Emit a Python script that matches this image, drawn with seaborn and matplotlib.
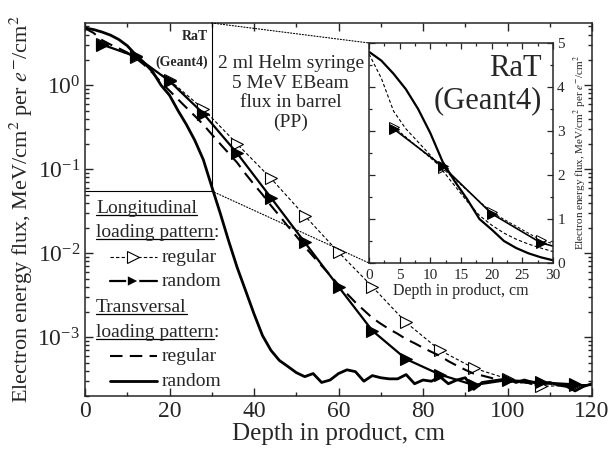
import numpy as np
import pandas as pd
import matplotlib
matplotlib.use("Agg")
import matplotlib.pyplot as plt
from matplotlib.patches import ConnectionPatch
from matplotlib.ticker import MultipleLocator, LogLocator, NullFormatter
import seaborn as sns

# --- Data ---
# Transversal loading pattern, no markers, 2 cm bins
trans_depth = [0, 2, 4, 6, 8, 10, 12, 14, 16, 18, 20, 22, 24, 26, 28, 30, 32, 34, 36, 38,
               40, 42, 44, 46, 48, 50, 52, 54, 56, 58, 60, 62, 64, 66, 68, 70, 72, 74, 76, 78,
               80, 82, 84, 86, 88, 90, 92, 94, 96, 98, 100, 102, 104, 106, 108, 110, 112, 114,
               116, 118, 120]
trans_random = [4.8, 4.6, 4.3, 3.95, 3.5, 2.95, 2.3, 1.85, 1.45, 1.0, 0.76, 0.5, 0.34, 0.22,
                0.13, 0.062, 0.03, 0.014, 0.0068, 0.0036, 0.0019, 0.00105, 0.0007, 0.00053,
                0.00045, 0.00038, 0.00034, 0.00037, 0.00029, 0.00031, 0.00037, 0.00041,
                0.00039, 0.0003, 0.00035, 0.00033, 0.00032, 0.00032, 0.00036, 0.00028,
                0.00031, 0.0003, 0.00034, 0.00028, 0.00031, 0.00033, 0.00024, 0.00029,
                0.0003, 0.00031, 0.00032, 0.00029, 0.00031, 0.00029, 0.00028, 0.00029,
                0.00027, 0.00026, 0.00023, 0.00026, 0.00028]
trans_regular = [4.75, 4.2, 3.45, 3.05, 2.75, 2.45, 2.1, 1.75, 1.4, 1.08, 0.86, 0.68, 0.54,
                 0.43, 0.34, 0.26, 0.2, 0.155, 0.12, 0.088, 0.066, 0.05, 0.037, 0.028, 0.021,
                 0.016, 0.012, 0.0092, 0.0071, 0.0055, 0.0042, 0.0033, 0.0026, 0.0021, 0.0017,
                 0.00145, 0.00125, 0.0011, 0.00095, 0.00085, 0.00075, 0.00067, 0.0006,
                 0.00052, 0.00046, 0.00041, 0.00037, 0.00035, 0.00033, 0.00031, 0.0003,
                 0.00029, 0.00029, 0.00028, 0.00028, 0.00028, 0.00027, 0.00027, 0.00027,
                 0.00027, 0.00027]

# Longitudinal loading pattern, triangle markers, 8 cm bins
long_depth = [4, 12, 20, 28, 36, 44, 52, 60, 68, 76, 84, 92, 100, 108, 116]
long_random = [3.05, 2.2, 1.12, 0.46, 0.155, 0.046, 0.0135, 0.004, 0.0012, 0.00055,
               0.00036, 0.00027, 0.00031, 0.00029, 0.000275]
long_regular = [3.1, 2.15, 1.15, 0.52, 0.2, 0.078, 0.028, 0.0103, 0.004, 0.0015, 0.0007,
                0.00043, 0.00032, 0.00026, 0.00027]

# zoomed region shown in the inset
zoom_x_max = 30
zoom_y_low = 0.055
y_top = 5.5

trans_df = pd.DataFrame({'Depth': trans_depth, 'Random': trans_random, 'Regular': trans_regular})
long_df = pd.DataFrame({'Depth': long_depth, 'Random': long_random, 'Regular': long_regular})

# --- Style ---
sns.set_style("ticks")
plt.rcParams['font.family'] = ['Liberation Serif', 'DejaVu Serif']
plt.rcParams['mathtext.fontset'] = 'stix'
plt.rcParams['axes.linewidth'] = 1.1

fig = plt.figure(figsize=(6.09, 4.53), dpi=100)
ax = fig.add_axes([0.1396, 0.1258, 0.8325, 0.8234])

# main plot series
sns.lineplot(x='Depth', y='Regular', data=long_df, ax=ax, color='k', lw=0.8,
             linestyle=(0, (3, 2)), marker='>', markersize=9, markerfacecolor='white',
             markeredgecolor='k', markeredgewidth=0.8)
sns.lineplot(x='Depth', y='Random', data=long_df, ax=ax, color='k', lw=1.6,
             marker='>', markersize=9, markerfacecolor='k', markeredgecolor='k',
             markeredgewidth=0.8)
sns.lineplot(x='Depth', y='Random', data=trans_df, ax=ax, color='k', lw=2.0)
sns.lineplot(x='Depth', y='Regular', data=trans_df, ax=ax, color='k', lw=1.5,
             linestyle=(0, (6, 3.5)))

ax.set_yscale('log')
ax.set_xlim(0, 120)
ax.set_ylim(2e-4, y_top)
ax.xaxis.set_major_locator(MultipleLocator(20))
ax.xaxis.set_minor_locator(MultipleLocator(10))
ax.yaxis.set_major_locator(LogLocator(base=10, numticks=10))
ax.yaxis.set_minor_locator(LogLocator(base=10, subs=np.arange(2, 10), numticks=20))
ax.yaxis.set_minor_formatter(NullFormatter())
ax.tick_params(which='both', direction='in', top=True, right=True, labelsize=17, width=1)
ax.tick_params(which='major', length=6)
ax.tick_params(which='minor', length=3)
ax.set_xlabel('Depth in product, cm', fontsize=18, labelpad=1)
ax.set_ylabel(r'Electron energy flux, MeV/cm$^2$ per $e^{-}$/cm$^2$', fontsize=16, labelpad=2)

# zoom box
ax.plot([zoom_x_max, zoom_x_max], [zoom_y_low, y_top], color='k', lw=0.8)
ax.plot([0, zoom_x_max], [zoom_y_low, zoom_y_low], color='k', lw=0.8)

ax.text(0.2426, 0.9625, 'RaT', transform=ax.transAxes, ha='right', va='center',
        fontsize=10, fontweight='bold')
ax.text(0.2426, 0.8954, '(Geant4)', transform=ax.transAxes, ha='right', va='center',
        fontsize=10, fontweight='bold')
ax.text(0.406, 0.914, '2 ml Helm syringe\n5 MeV EBeam\nflux in barrel\n(PP)',
        transform=ax.transAxes, ha='center', va='top', fontsize=14, linespacing=1.2)

# --- Hand-made legend ---
lx0, lx1, ltx = 0.049, 0.142, 0.152
heads = [('Longitudinal', 0.4906, False), ('loading pattern', 0.4263, True),
         ('Transversal', 0.2252, False), ('loading pattern', 0.1582, True)]
head_texts = []
for label, yb, colon in heads:
    t = ax.text(0.022, yb, label, transform=ax.transAxes, ha='left', va='baseline', fontsize=14)
    head_texts.append((t, yb, colon))

rows = [('regular', 0.3592, 0.373, 'lreg'), ('random', 0.2949, 0.308, 'lran'),
        ('regular', 0.0938, 0.107, 'treg'), ('random', 0.0268, 0.040, 'tran')]
for label, yb, yl, kind in rows:
    ax.text(ltx, yb, label, transform=ax.transAxes, ha='left', va='baseline', fontsize=14)
    if kind == 'lreg':
        ax.plot([lx0, lx1], [yl, yl], transform=ax.transAxes, color='k', lw=0.8,
                linestyle=(0, (3, 2)), clip_on=False)
        ax.plot([(lx0 + lx1) / 2], [yl], transform=ax.transAxes, marker='>', ms=9,
                mfc='white', mec='k', mew=0.8, clip_on=False)
    elif kind == 'lran':
        ax.plot([lx0, lx1], [yl, yl], transform=ax.transAxes, color='k', lw=1.6, clip_on=False)
        ax.plot([(lx0 + lx1) / 2], [yl], transform=ax.transAxes, marker='>', ms=9,
                mfc='k', mec='white', mew=1.2, clip_on=False)
    elif kind == 'treg':
        ax.plot([lx0, lx1], [yl, yl], transform=ax.transAxes, color='k', lw=1.5,
                linestyle=(0, (6, 3.5)), clip_on=False)
    else:
        ax.plot([lx0, lx1], [yl, yl], transform=ax.transAxes, color='k', lw=2.0, clip_on=False)

fig.canvas.draw()
renderer = fig.canvas.get_renderer()
inv = ax.transAxes.inverted()
for t, yb, colon in head_texts:
    bb = t.get_window_extent(renderer)
    (x0, _), (x1, _) = inv.transform([[bb.x0, bb.y0], [bb.x1, bb.y1]])
    ax.plot([x0, x1], [yb - 0.006, yb - 0.006], transform=ax.transAxes, color='k', lw=0.9,
            clip_on=False)
    if colon:
        ax.text(x1, yb, ':', transform=ax.transAxes, ha='left', va='baseline', fontsize=14)

# --- Inset (linear scale, 0-30 cm) ---
axin = fig.add_axes([0.606, 0.4194, 0.3021, 0.4857])
sns.lineplot(x='Depth', y='Regular', data=long_df, ax=axin, color='k', lw=0.7,
             linestyle=(0, (3, 2)), marker='>', markersize=7, markerfacecolor='white',
             markeredgecolor='k', markeredgewidth=0.7)
sns.lineplot(x='Depth', y='Random', data=long_df, ax=axin, color='k', lw=1.2,
             marker='>', markersize=7, markerfacecolor='k', markeredgecolor='k',
             markeredgewidth=0.7)
sns.lineplot(x='Depth', y='Random', data=trans_df, ax=axin, color='k', lw=1.6)
sns.lineplot(x='Depth', y='Regular', data=trans_df, ax=axin, color='k', lw=0.8,
             linestyle=(0, (3, 2)))
axin.set_xlim(0, zoom_x_max)
axin.set_ylim(0, 5)
axin.xaxis.set_major_locator(MultipleLocator(5))
axin.xaxis.set_minor_locator(MultipleLocator(2.5))
axin.yaxis.set_major_locator(MultipleLocator(1))
axin.yaxis.set_minor_locator(MultipleLocator(0.5))
axin.tick_params(which='both', direction='in', top=True, right=True, left=True,
                 labelleft=False, labelright=True, labelsize=11, width=0.9)
axin.tick_params(axis='x', pad=4)
axin.tick_params(axis='y', pad=3)
axin.tick_params(which='major', length=4)
axin.tick_params(which='minor', length=2)
axin.yaxis.set_label_position('right')
axin.set_xlabel('Depth in product, cm', fontsize=11.5, labelpad=1)
axin.set_ylabel(r'Electron energy flux, MeV/cm$^2$ per $e^{-}$/cm$^2$', fontsize=8, labelpad=5)
axin.text(0.94, 0.95, 'RaT\n(Geant4)', transform=axin.transAxes, ha='right', va='top',
          fontsize=22, multialignment='right', linespacing=1.15)

# dotted connectors from zoom box to inset
for ya, yb in [(y_top, 1), (zoom_y_low, 0)]:
    con = ConnectionPatch(xyA=(zoom_x_max, ya), coordsA=ax.transData, xyB=(0, yb),
                          coordsB=axin.transAxes, color='k', lw=0.8, linestyle=':')
    fig.add_artist(con)

fig.savefig('out.png', dpi=100)
plt.close(fig)
